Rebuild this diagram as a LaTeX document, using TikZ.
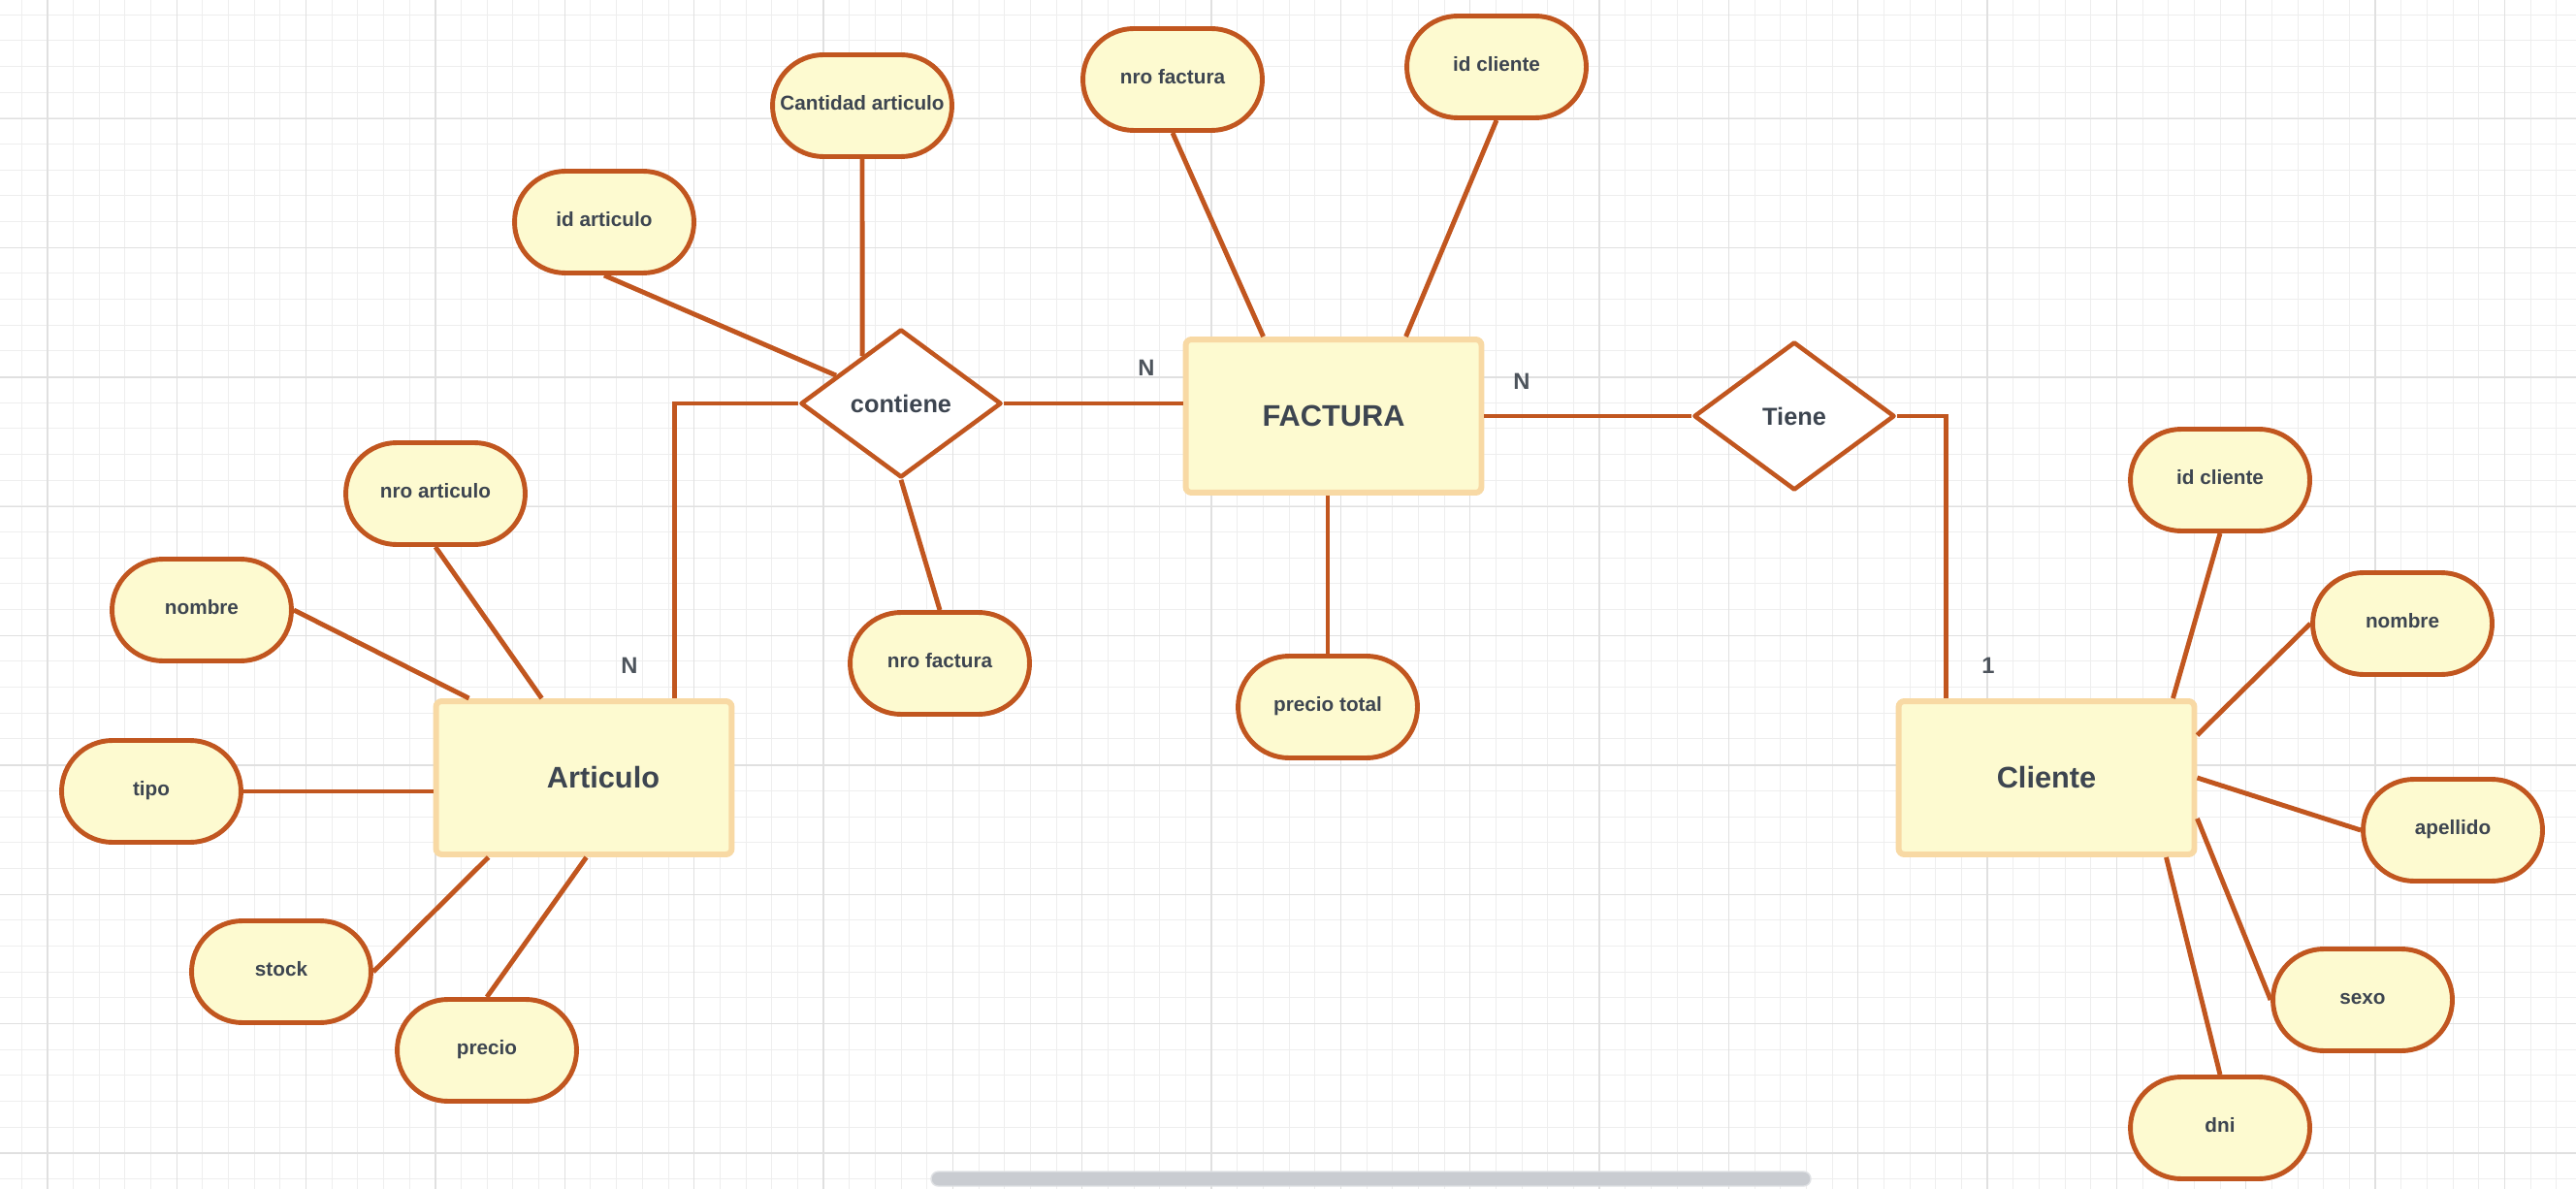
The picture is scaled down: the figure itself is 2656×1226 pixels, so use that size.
\documentclass[tikz,border=0pt]{standalone}
\usepackage{fontspec}
\setmainfont{Liberation Sans}
\usetikzlibrary{shapes.geometric, calc}
\definecolor{erOrange}{HTML}{C1561F}
\definecolor{erFill}{HTML}{FDFAD0}
\definecolor{erEdge}{HTML}{F8D9A4}
\definecolor{erText}{HTML}{3D4550}
\definecolor{erCard}{HTML}{4D545C}
\definecolor{gridMinor}{HTML}{EEEEEE}
\definecolor{gridMajor}{HTML}{E0E0E0}
\definecolor{barGrey}{HTML}{C9CCD1}
\definecolor{barEdge}{HTML}{DFE1E4}

\begin{document}
\begin{tikzpicture}[x=0.02cm, y=-0.02cm,
    attr/.style={draw=erOrange, line width=2.8pt, fill=erFill, rounded corners=1.05cm,
      minimum width=3.7cm, minimum height=2.1cm, inner sep=0pt, text=erText,
      text height=0.3cm, text depth=0.12cm, font=\fontsize{11.8}{14}\bfseries},
    ent/.style={draw=erEdge, line width=3.4pt, fill=erFill, rounded corners=0.12cm,
      minimum width=6.1cm, minimum height=3.16cm, inner sep=0pt, text=erText,
      font=\fontsize{17.5}{20}\bfseries},
    rel/.style={diamond, draw=erOrange, line width=2.6pt, fill=white, line join=round,
      minimum width=4.14cm, minimum height=3.06cm, inner sep=0pt, text=erText,
      font=\fontsize{14.4}{17}\bfseries},
    link/.style={draw=erOrange, line width=2.8pt},
    card/.style={text=erCard, font=\fontsize{13.5}{16}\bfseries}]
    \useasboundingbox (0,0) rectangle (2656,1226);
    \fill[white] (0,0) rectangle (2656,1226);
    \foreach \i in {0,...,99}
      \draw[gridMinor, line width=0.55pt] ({22.3+26.667*\i},0) -- ++(0,1226);
    \foreach \j in {0,...,45}
      \draw[gridMinor, line width=0.55pt] (0,{15.3+26.667*\j}) -- ++(2656,0);
    \foreach \i in {0,...,19}
      \draw[gridMajor, line width=0.7pt] ({49+133.33*\i},0) -- ++(0,1226);
    \foreach \j in {0,...,8}
      \draw[gridMajor, line width=0.7pt] (0,{122.3+133.33*\j}) -- ++(2656,0);
    \draw[barEdge, fill=barGrey, line width=0.8pt, rounded corners=0.15cm]
      (960,1208) rectangle (1867,1223);

    \node[ent] (fac) at (1375,429) {FACTURA};
    \node[ent] (art) at (602,802) {\hspace*{0.8cm}Articulo};
    \node[ent] (cli) at (2110,802) {Cliente};
    \node[rel] (cont) at (929,416) {contiene};
    \node[rel] (tie) at (1850,429) {Tiene};

    \node[attr] (cant) at (889,109) {Cantidad articulo};
    \node[attr] (nfac1) at (1209,82) {nro factura};
    \node[attr] (idc1) at (1543,69) {id cliente};
    \node[attr] (ida) at (623,229) {id articulo};
    \node[attr] (nart) at (449,509) {nro articulo};
    \node[attr] (nom1) at (208,629) {nombre};
    \node[attr] (tipo) at (156,816) {tipo};
    \node[attr] (stk) at (290,1002) {stock};
    \node[attr] (prc) at (502,1083) {precio};
    \node[attr] (nfac2) at (969,684) {nro factura};
    \node[attr] (ptot) at (1369,729) {precio total};
    \node[attr] (idc2) at (2289,495) {id cliente};
    \node[attr] (nom2) at (2477,643) {nombre};
    \node[attr] (ape) at (2529,856) {apellido};
    \node[attr] (sex) at (2436,1031) {sexo};
    \node[attr] (dni) at (2289,1163) {dni};

    \node[card] (n1) at (1182,379) {N};
    \node[card] (n2) at (1569,393) {N};
    \node[card] (n3) at (649,686) {N};
    \node[card] (u1) at (2050,686) {1};

    \coordinate (cantf) at (cant.south |- cont.west);
    \draw[link] (cant.south) -- (intersection of cant.south--cantf and cont.west--cont.north);
    \draw[link] (ida.south) -- (cont);
    \draw[link] (cont.west) -| ($(art.north west)+(249,0)$);
    \draw[link] (cont.east) -- (cont.east -| fac.west);
    \draw[link] (cont.south) -- (nfac2.north);
    \draw[link] (nfac1.south) -- ($(fac.north west)+(83,0)$);
    \draw[link] (idc1.south) -- ($(fac.north west)+(230,0)$);
    \draw[link] (ptot.north |- fac.south) -- (ptot.north);
    \draw[link] (fac.east) -- (tie.west);
    \draw[link] (tie.east) -| ($(cli.north west)+(52,0)$);
    \draw[link] (nart.south) -- ($(art.north west)+(112,0)$);
    \draw[link] (nom1.east) -- ($(art.north west)+(37,0)$);
    \draw[link] (tipo.east) -- (tipo.east -| art.west);
    \draw[link] (stk.east) -- ($(art.south west)+(57,0)$);
    \draw[link] (prc.north) -- ($(art.south west)+(158,0)$);
    \draw[link] (idc2.south) -- ($(cli.north east)+(-25,0)$);
    \draw[link] (nom2.west) -- ($(cli.north east)+(0,38)$);
    \draw[link] (ape.west) -- (cli.east);
    \draw[link] (sex.west) -- ($(cli.east)+(0,42)$);
    \draw[link] (dni.north) -- ($(cli.south east)+(-32,0)$);
\end{tikzpicture}
\end{document}
